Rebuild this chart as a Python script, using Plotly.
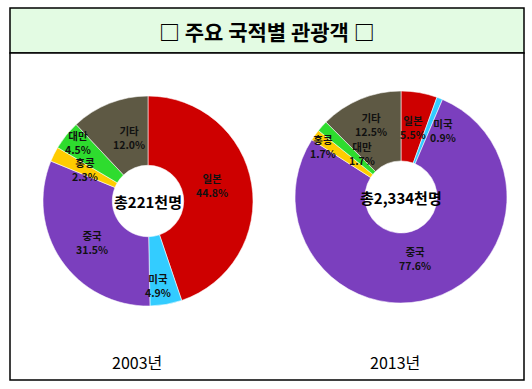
import math
import plotly.graph_objects as go

# ---------------- data ----------------
countries = ["일본", "미국", "중국", "홍콩", "대만", "기타"]
share_2003 = [44.8, 4.9, 31.5, 2.3, 4.5, 12.0]
share_2013 = [5.5, 0.9, 77.6, 1.7, 1.7, 12.5]
totals = ["총221천명", "총2,334천명"]
years = ["2003년", "2013년"]
title_text = "□ 주요 국적별 관광객 □"

# ---------------- styles ----------------
colors = ["#CE0000", "#33CCFF", "#7B3FBE", "#FFCC00", "#2EDC2E", "#5E5944"]
W, H = 532, 389
FONT = "Noto Sans CJK KR, Noto Sans, sans-serif"

# pie geometry (pixels): centre x, centre y, outer radius
pies = [
    dict(cx=148, cy=201, R=105),
    dict(cx=401, cy=197, R=106),
]
# label placement tweaks per slice: (radius fraction, angle offset in degrees)
label_style = [
    [(0.63, -4), (0.81, 3), (0.66, -2), (0.67, 0), (0.87, 1), (0.63, 5)],
    [(0.67, 0), (0.74, 11), (0.60, 4), (0.88, -3), (0.55, 6), (0.74, 0)],
]

fig = go.Figure()

annotations = []
for i, (vals, geo) in enumerate(zip([share_2003, share_2013], pies)):
    cx, cy, R = geo["cx"], geo["cy"], geo["R"]
    dom_x = [(cx - R) / W, (cx + R) / W]
    dom_y = [1 - (cy + R) / H, 1 - (cy - R) / H]
    fig.add_trace(go.Pie(
        labels=countries,
        values=vals,
        sort=False,
        direction="clockwise",
        rotation=0,
        hole=0.34,
        marker=dict(colors=colors, line=dict(color="rgba(255,255,255,0.55)", width=1)),
        textinfo="none",
        showlegend=False,
        domain=dict(x=dom_x, y=dom_y),
    ))
    total = sum(vals)
    cum = 0.0
    for j, (name, v) in enumerate(zip(countries, vals)):
        mid = (cum + v / 2) / total * 360.0
        cum += v
        rf, off = label_style[i][j]
        th = math.radians(mid + off)
        px = cx + rf * R * math.sin(th)
        py = cy - rf * R * math.cos(th)
        annotations.append(dict(
            x=px / W, y=1 - py / H, xref="paper", yref="paper",
            text=f"<b>{name}<br>{v:.1f}%</b>", showarrow=False,
            font=dict(family=FONT, size=10.5, color="#111111"),
            xanchor="center", yanchor="middle", align="center",
        ))
    # centre total
    annotations.append(dict(
        x=cx / W, y=1 - cy / H, xref="paper", yref="paper",
        text=f"<b>{totals[i]}</b>", showarrow=False,
        font=dict(family=FONT, size=15, color="#000000"),
        xanchor="center", yanchor="middle",
    ))

# year captions
for xpx, yr in zip([137, 395], years):
    annotations.append(dict(
        x=xpx / W, y=1 - 362 / H, xref="paper", yref="paper",
        text=yr, showarrow=False,
        font=dict(family=FONT, size=16, color="#000000"),
        xanchor="center", yanchor="middle",
    ))

# title
annotations.append(dict(
    x=267 / W, y=1 - 31 / H, xref="paper", yref="paper",
    text=f"<b>{title_text}</b>", showarrow=False,
    font=dict(family=FONT, size=21, color="#000000"),
    xanchor="center", yanchor="middle",
))

L, T, Rr, B, band = 10, 8, 524, 380, 53
shapes = [
    dict(type="rect", xref="paper", yref="paper", layer="below",
         x0=L / W, x1=Rr / W, y0=1 - band / H, y1=1 - T / H,
         fillcolor="#E3FBE3", line=dict(color="black", width=1.5)),
    dict(type="rect", xref="paper", yref="paper", layer="below",
         x0=L / W, x1=Rr / W, y0=1 - B / H, y1=1 - band / H,
         fillcolor="white", line=dict(color="black", width=1.5)),
]

fig.update_layout(
    width=W, height=H,
    margin=dict(l=0, r=0, t=0, b=0),
    paper_bgcolor="white", plot_bgcolor="white",
    annotations=annotations, shapes=shapes,
    font=dict(family=FONT),
)

fig.write_html(
    "out.html",
    config={"displayModeBar": False},
    post_script="document.body.style.margin='0';document.body.style.overflow='hidden';",
)
